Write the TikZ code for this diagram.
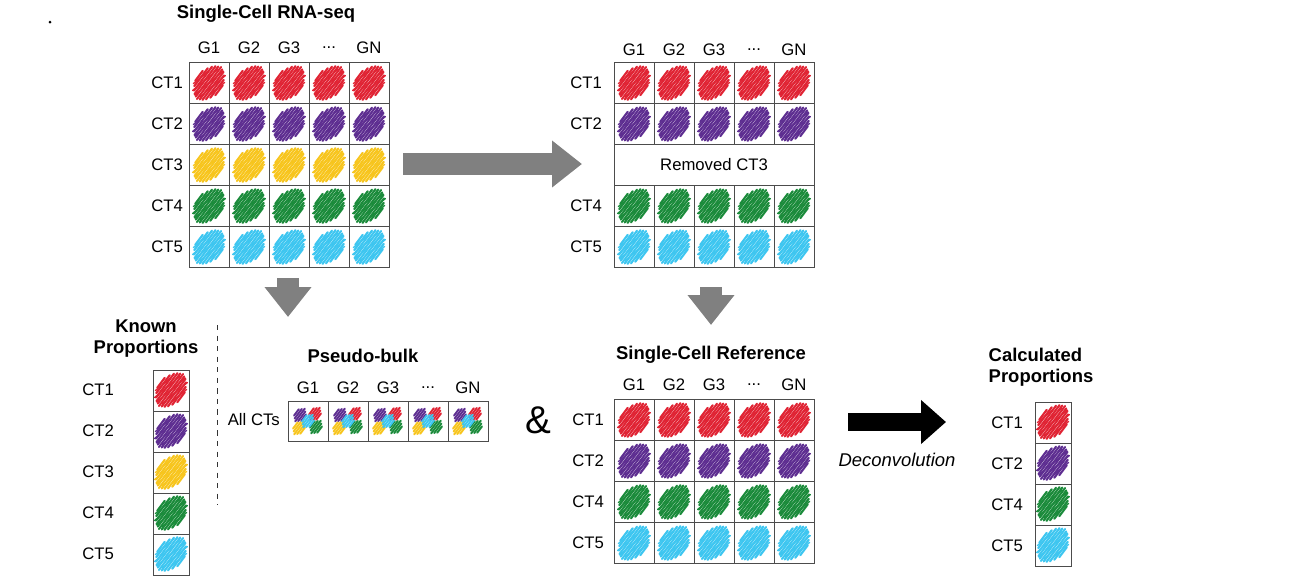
\documentclass[tikz,border=0pt]{standalone}
\usepackage{fontspec}
\setmainfont{Liberation Sans}
\usetikzlibrary{arrows.meta}
\definecolor{cred}{HTML}{E02434}
\definecolor{cpur}{HTML}{5E2E91}
\definecolor{cyel}{HTML}{F7C51E}
\definecolor{cgrn}{HTML}{1B8B3B}
\definecolor{ccya}{HTML}{3EC6F0}
\newcommand\gdots{...}
\tikzset{
  lab/.style={font=\fontsize{9.5}{11}\selectfont},
  ttl/.style={font=\fontsize{10.5}{12}\selectfont\bfseries,align=center},
  cell/.style={draw=black!70,line width=0.5pt},
  grayarrow/.style={line width=22*0.02cm,draw=black!50,-{Triangle[length=0.6cm,width=0.9cm]}},
  pics/scrib/.style={code={
    \foreach \i/\l in {-5/5,-4/9,-3/12,-2/14,-1/15,0/16,1/15,2/14,3/12,4/9,5/5}
      \draw[#1,line width=1.2pt,line cap=round]
        ({\i*2.0+\l*0.75},{\i*1.45-\l*1.0}) -- ({\i*2.0-\l*0.75},{\i*1.45+\l*1.0});
    \foreach \i/\l in {-4/8,-2/13,0/15,2/13,4/8}
      \draw[#1,line width=0.8pt,line cap=round]
        ({\i*2.0+\l*0.95},{\i*1.45-\l*0.8}) -- ({\i*2.0-\l*0.95},{\i*1.45+\l*0.8});
  }},
  pics/mixed/.style={code={
    \foreach \c/\dx/\dy in {cyel/-9/7,cpur/-8/-6,cred/7/-7,cgrn/8/6,ccya/0/0}
      \foreach \i/\l in {-2/4,-1/6,0/8,1/6,2/4}
        \draw[\c,line width=1.1pt,line cap=round]
          ({\dx+\i*1.8+\l*0.6},{\dy+\i*1.3-\l*0.8}) -- ({\dx+\i*1.8-\l*0.6},{\dy+\i*1.3+\l*0.8});
  }}
}
\begin{document}
\begin{tikzpicture}[x=0.02cm,y=-0.02cm]
  \useasboundingbox (0,0) rectangle (1297,586);
  \fill (50,22) circle (1.5);
  % single-cell RNA-seq
  \node[ttl] (tsc) at (266,14) {Single-Cell RNA-seq};
  \foreach \g [count=\k] in {G1,G2,G3,\gdots,GN}
    \node[lab] (sch\k) at ({169+\k*40},48) {\g};
  \foreach \c/\t [count=\r] in {cred/CT1,cpur/CT2,cyel/CT3,cgrn/CT4,ccya/CT5} {
    \node[lab,anchor=east] (scr\r) at (189,{42+\r*41}) {\t};
    \foreach \k in {1,...,5} {
      \draw[cell] ({149+\k*40},{21.5+\r*41}) rectangle ++(40,41);
      \pic at ({169+\k*40},{42+\r*41}) {scrib=\c};
    }
  }
  \coordinate (scE) at (403,164);
  \coordinate (scS) at (288,278);
  % removed CT3
  \foreach \g [count=\k] in {G1,G2,G3,\gdots,GN}
    \node[lab] (rmh\k) at ({594+\k*40},50) {\g};
  \foreach \c/\t/\r in {cred/CT1/1,cpur/CT2/2,cgrn/CT4/4,ccya/CT5/5} {
    \node[lab,anchor=east] (rmr\r) at (608,{42+\r*41}) {\t};
    \foreach \k in {1,...,5} {
      \draw[cell] ({574+\k*40},{21.5+\r*41}) rectangle ++(40,41);
      \pic at ({594+\k*40},{42+\r*41}) {scrib=\c};
    }
  }
  \draw[cell] (614,144.5) rectangle (814,185.5);
  \node[lab] (rm3) at (714,165) {Removed CT3};
  \coordinate (rmW) at (582,164);
  \coordinate (rmS) at (711,287);
  \draw[grayarrow] (scE) -- (rmW);
  \draw[grayarrow] (scS) -- ++(0,39);
  \draw[grayarrow] (rmS) -- ++(0,38);
  % known proportions
  \node[ttl] (tkp) at (146,339) {Known\\Proportions};
  \foreach \c/\t [count=\r] in {cred/CT1,cpur/CT2,cyel/CT3,cgrn/CT4,ccya/CT5} {
    \node[lab,anchor=east] (kpr\r) at (120,{349+\r*41}) {\t};
    \draw[cell] (153,{329+\r*41}) rectangle ++(36,41);
    \pic at (171,{349+\r*41}) {scrib=\c};
  }
  \draw[dashed,black!80] (217,325) -- (217,505);
  % pseudo-bulk
  \node[ttl] (tpb) at (363,356) {Pseudo-bulk};
  \foreach \g [count=\k] in {G1,G2,G3,\gdots,GN}
    \node[lab] (pbh\k) at ({268+\k*40},388) {\g};
  \node[lab,anchor=east] (pball) at (286,420) {All CTs};
  \foreach \k in {1,...,5} {
    \draw[cell] ({248+\k*40},401) rectangle ++(40,40);
    \pic at ({268+\k*40},421) {mixed};
  }
  \node[font=\fontsize{22}{24}\selectfont] (amp) at (538,420) {\&};
  % single-cell reference
  \node[ttl] (tref) at (711,355) {Single-Cell Reference};
  \foreach \g [count=\k] in {G1,G2,G3,\gdots,GN}
    \node[lab] (refh\k) at ({594+\k*40},385) {\g};
  \foreach \c/\t [count=\r] in {cred/CT1,cpur/CT2,cgrn/CT4,ccya/CT5} {
    \node[lab,anchor=east] (refr\r) at (610,{379+\r*41}) {\t};
    \foreach \k in {1,...,5} {
      \draw[cell] ({574+\k*40},{358.5+\r*41}) rectangle ++(40,41);
      \pic at ({594+\k*40},{379+\r*41}) {scrib=\c};
    }
  }
  \coordinate (refE) at (848,422);
  \coordinate (cpW) at (946,422);
  \draw[line width=18*0.02cm,-{Triangle[length=0.5cm,width=0.85cm]}] (refE) -- (cpW);
  \node[lab,font=\fontsize{10.5}{12}\selectfont\itshape] (dec) at (897,460) {Deconvolution};
  % calculated proportions
  \node[ttl,align=left] (tcp) at (1041,367) {Calculated\\Proportions};
  \foreach \c/\t [count=\r] in {cred/CT1,cpur/CT2,cgrn/CT4,ccya/CT5} {
    \node[lab,anchor=east] (cpr\r) at (1029,{382+\r*41}) {\t};
    \draw[cell] (1035,{402+(\r-1)*41}) rectangle ++(36,41);
    \pic at (1053,{422+(\r-1)*41}) {scrib=\c};
  }
\end{tikzpicture}
\end{document}
